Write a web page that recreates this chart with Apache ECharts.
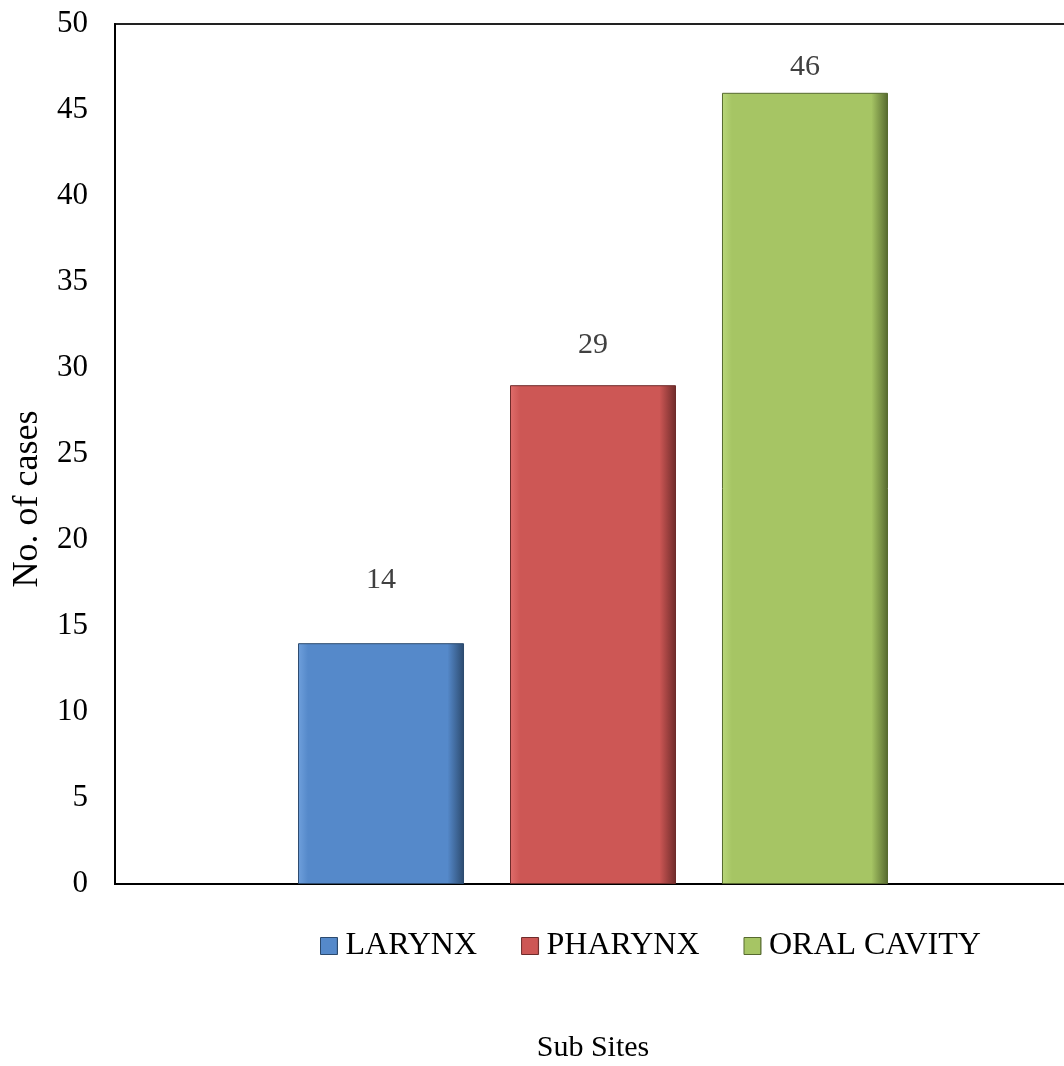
<!DOCTYPE html>
<html>
<head>
<meta charset="utf-8">
<script src="https://cdn.jsdelivr.net/npm/echarts@6/dist/echarts.min.js"></script>
<style>
html,body{margin:0;padding:0;background:#fff;}
#chart{width:1064px;height:1066px;}
</style>
</head>
<body>
<div id="chart"></div>
<script>
var categories = ['Sub Sites'];
var seriesNames = ['LARYNX', 'PHARYNX', 'ORAL CAVITY'];
var larynx = [14];
var pharynx = [29];
var oralCavity = [46];
var yTicks = [0, 5, 10, 15, 20, 25, 30, 35, 40, 45, 50];

var baseColors = ['#5589CA', '#CD5755', '#A6C564'];
var lightColors = ['#6FA0DC', '#E06D6B', '#B9D77A'];
var darkColors = ['#2C4A6E', '#6E2B2A', '#56692F'];
var labelGaps = [48, 25, 11];
var values = [larynx, pharynx, oralCavity];

function fill(i) {
  return {
    type: 'linear', x: 0, y: 0, x2: 1, y2: 0,
    colorStops: [
      {offset: 0, color: lightColors[i]},
      {offset: 0.06, color: baseColors[i]},
      {offset: 0.9, color: baseColors[i]},
      {offset: 1, color: darkColors[i]}
    ]
  };
}

var font = '"Liberation Serif", "Times New Roman", serif';
var chart = echarts.init(document.getElementById('chart'));
chart.setOption({
  animation: false,
  backgroundColor: '#fff',
  textStyle: {fontFamily: font},
  grid: {left: 115, right: -7, top: 24, bottom: 182, outerBoundsMode: 'none', containLabel: false,
         show: true, borderColor: '#222', borderWidth: 2},
  legend: {
    left: 315, top: 925,
    itemWidth: 17, itemHeight: 17, itemGap: 44,
    textStyle: {fontFamily: font, fontSize: 32, color: '#000', padding: [0, 0, 0, 3]},
    data: seriesNames.map(function (n, i) { return {name: n, icon: 'rect', itemStyle: {color: fill(i), borderColor: darkColors[i], borderWidth: 1}}; })
  },
  xAxis: {
    type: 'category', data: categories,
    name: 'Sub Sites', nameLocation: 'middle', nameGap: 149,
    nameTextStyle: {fontFamily: font, fontSize: 30, color: '#000'},
    axisLine: {lineStyle: {color: '#000', width: 2}},
    axisTick: {show: false}, axisLabel: {show: false}
  },
  yAxis: {
    type: 'value', min: yTicks[0], max: yTicks[yTicks.length - 1], interval: 5,
    name: 'No. of cases', nameLocation: 'middle', nameGap: 69,
    nameTextStyle: {fontFamily: font, fontSize: 36, color: '#000', padding: [0, 90, 0, 0]},
    axisLine: {show: true, lineStyle: {color: '#000', width: 2}},
    axisTick: {show: false},
    splitLine: {show: false},
    axisLabel: {fontFamily: font, fontSize: 31, color: '#000', margin: 27}
  },
  series: seriesNames.map(function (n, i) {
    return {
      name: n, type: 'bar', data: values[i],
      barWidth: 166, barGap: '27.7%',
      itemStyle: {color: fill(i), borderColor: darkColors[i], borderWidth: 1},
      label: {show: true, position: 'top', distance: labelGaps[i], fontFamily: font, fontSize: 30, color: '#404040'}
    };
  })
});
</script>
</body>
</html>
